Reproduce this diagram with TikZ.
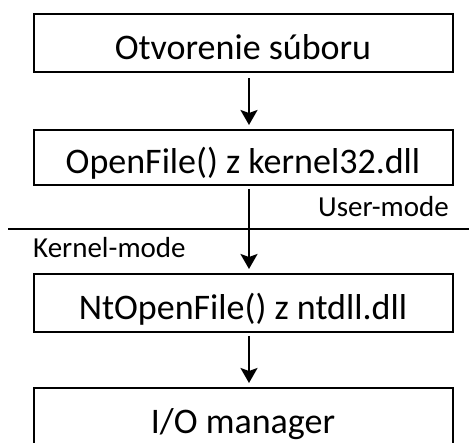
\documentclass[tikz,border=0pt]{standalone}
\usepackage{fontspec}
\setmainfont{Carlito}
\usetikzlibrary{arrows.meta}

\begin{document}
\begin{tikzpicture}[x=1pt,y=-1pt,
                    etapa/.style={draw,line width=2pt,minimum width=419pt,minimum height=58pt,
                                  inner sep=0pt,text height=34pt,text depth=1pt,
                                  font=\fontsize{36}{42}\selectfont},
                    sipka/.style={line width=2pt,-{Stealth[length=15pt,width=17pt,inset=3pt]}},
                    popis/.style={inner sep=0pt,font=\fontsize{29}{34}\selectfont}]
   \useasboundingbox (0,0) rectangle (469,443);
   \clip (0,0) rectangle (469,443);
   \node [etapa] (otvorenie) at (243,43.5) {Otvorenie súboru};
   \node [etapa,minimum height=55pt] (openfile) at (243,157.5) {OpenFile() z kernel32.dll};
   \node [etapa] (ntopen)    at (243,303)  {NtOpenFile() z ntdll.dll};
   \node [etapa] (iomanager) at (243,417)  {I/O manager};
   % hranica medzi rezimami
   \coordinate (hranicaL) at (8,229);
   \coordinate (hranicaP) at (469,229);
   \draw [line width=2pt] (hranicaL) -- (hranicaP);
   \node [popis,anchor=east] (user)   at (449,207) {User-mode};
   \node [popis,anchor=west] (kernel) at (33,248)  {Kernel-mode};
   % sipky
   \draw [sipka] ([xshift=6pt,yshift=-5pt]otvorenie.south) -- ([xshift=6pt,yshift=4pt]openfile.north);
   \draw [sipka] ([xshift=6pt,yshift=-3pt]openfile.south)  -- ([xshift=6pt,yshift=4pt]ntopen.north);
   \draw [sipka] ([xshift=6pt,yshift=-3pt]ntopen.south)    -- ([xshift=6pt,yshift=4pt]iomanager.north);
\end{tikzpicture}
\end{document}
